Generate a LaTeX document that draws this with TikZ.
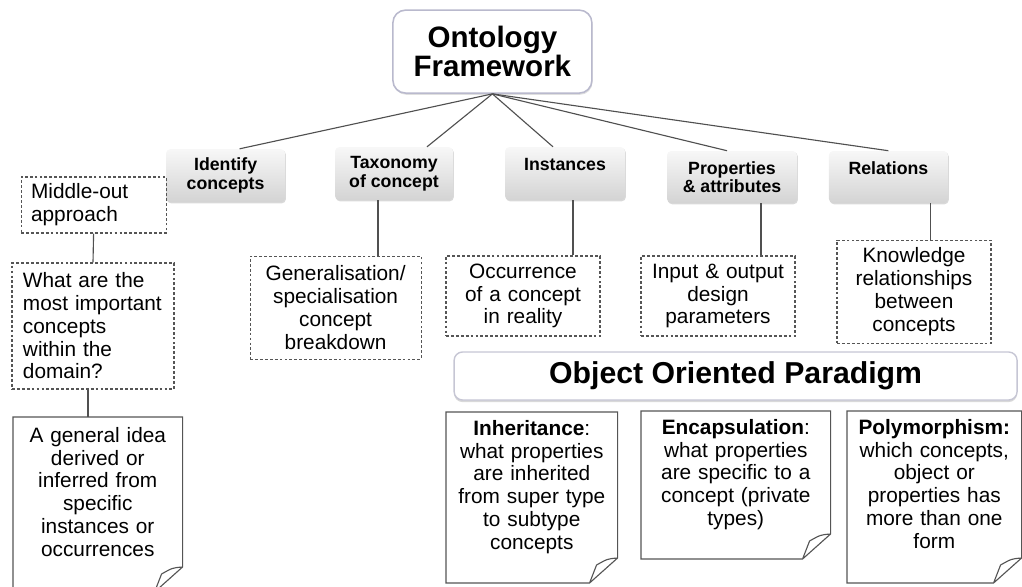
\documentclass[tikz,border=0pt]{standalone}
\usepackage{fontspec}
\setmainfont{Liberation Sans}
\usepackage{tikz}
\usetikzlibrary{positioning,calc,shadows}
\definecolor{ofGray}{RGB}{85,85,85}
\definecolor{ofLine}{RGB}{80,80,80}
\definecolor{ofBorder}{RGB}{185,185,205}
\definecolor{ofPale}{RGB}{198,198,212}

% page with a folded corner, drawn round a note node
\newcommand{\dogear}[2]{%
  \draw[notebox] (#1.north west) -- (#1.north east) -- ++(0,{0.625-#2}) coordinate (#1-fold)
    -- ++(-0.7,-0.625) -| (#1.north west) -- cycle
    (#1-fold) .. controls +(-0.25,-0.02) .. ++(-0.525,-0.175) -- ++(-0.175,-0.45);
}

\begin{document}
\begin{tikzpicture}[
  topic/.style={rounded corners=3pt, top color=black!3, bottom color=black!17,
    drop shadow={opacity=0.3, shadow xshift=0.6pt, shadow yshift=-0.9pt},
    align=center, font=\bfseries\fontsize{12.6}{13.2}\selectfont, minimum height=1.325cm, inner sep=2pt},
  detail/.style={draw=ofGray, dash pattern=on 2pt off 1.5pt, line width=0.8pt,
    font=\fontsize{14.8}{16.2}\selectfont, align=center},
  link/.style={draw=ofLine, line width=0.8pt},
  notebox/.style={draw=ofGray, line width=0.8pt},
  notetext/.style={anchor=north west, align=center, inner xsep=0.1cm, inner ysep=0.2cm,
    font=\fontsize{14.8}{16.2}\selectfont}
]
  \useasboundingbox (0,0) rectangle (25.55,14.65);

  % Root
  \node[draw=ofBorder, line width=1.1pt, fill=white, rounded corners=9pt, minimum width=4.975cm,
    minimum height=2.075cm, align=center, font=\bfseries\fontsize{21}{20.5}\selectfont,
    drop shadow={opacity=0.25, shadow xshift=0.5pt, shadow yshift=-1.2pt}] (onto) at (12.31,13.36) {Ontology\\Framework};

  % Topics
  \node[topic, minimum width=2.975cm] (ident) at (5.64,10.26) {Identify\\concepts};
  \node[topic, minimum width=2.95cm] (taxo) at (9.85,10.31) {Taxonomy\\of concept};
  \node[topic, minimum width=3cm] (inst) at (14.125,10.31) {Instances\\\mbox{}};
  \node[topic, minimum width=3.25cm, minimum height=1.3cm] (props) at (18.3,10.225) {Properties\\\& attributes};
  \node[topic, minimum width=2.975cm, minimum height=1.3cm] (rel) at (22.21,10.225) {Relations\\\mbox{}};

  \draw[link] (onto.south) -- ([xshift=0.35cm]ident.north);
  \draw[link] (onto.south) -- ([xshift=0.825cm]taxo.north);
  \draw[link] (onto.south) -- ([xshift=-0.3cm]inst.north);
  \draw[link] (onto.south) -- ([xshift=-0.125cm]props.north);
  \draw[link] (onto.south) -- (rel.north);

  % Dashed details
  \node[detail, text width=3.125cm, inner xsep=0.25cm, minimum height=1.4cm, align=left] (mid) at (2.34,9.525) {Middle-out\\approach};
  \node[detail, text width=3.5cm, inner xsep=0.275cm, minimum height=3.15cm, align=left] (what) at (2.325,6.5) {What are the\\most important\\concepts\\within the\\domain?};
  \node[detail, text width=4cm, inner xsep=0.1375cm, minimum height=2.575cm] (gen) at (8.39,6.96) {Generalisation/\\specialisation\\concept\\breakdown};
  \node[detail, text width=3.6cm, inner xsep=0.125cm, minimum height=2cm] (occ) at (13.075,7.25) {Occurrence\\of a concept\\in reality};
  \node[detail, text width=3.6cm, inner xsep=0.125cm, minimum height=2cm] (io) at (17.95,7.25) {Input \& output\\design\\parameters};
  \node[detail, text width=3.6cm, inner xsep=0.125cm, minimum height=2.575cm] (know) at (22.85,7.36) {Knowledge\\relationships\\between\\concepts};

  \draw[link] (mid.south) -- (what.north);
  \draw[link] ([xshift=-0.4cm]taxo.south) -- ([xshift=-0.4cm]taxo.south |- gen.north);
  \draw[link] ([xshift=0.2cm]inst.south) -- ([xshift=0.2cm]inst.south |- occ.north);
  \draw[link] ([xshift=0.725cm]props.south) -- ([xshift=0.725cm]props.south |- io.north);
  \draw[link] ([xshift=1.06cm]rel.south) -- ([xshift=1.06cm]rel.south |- know.north);

  % Left note
  \node[notetext, text width=4.025cm, inner ysep=0.25cm] (gidea) at (0.325,4.225) {A general idea\\derived or\\inferred from\\specific\\instances or\\occurrences};
  \dogear{gidea}{4.375}
  \draw[link] ([xshift=-0.125cm]what.south) -- ([xshift=-0.125cm]what.south |- gidea.north);

  % Object oriented paradigm
  \node[draw=ofPale, line width=1pt, fill=white, rounded corners=6pt, minimum width=14.075cm,
    minimum height=1.2cm, font=\bfseries\fontsize{21.5}{24}\selectfont,
    drop shadow={opacity=0.3, shadow xshift=0pt, shadow yshift=-1.5pt}] (oop) at (18.39,5.25) {Object Oriented Paradigm};

  \node[notetext, text width=4.075cm] (inher) at (11.15,4.35) {\textbf{Inheritance}:\\what properties\\are inherited\\from super type\\to subtype\\concepts};
  \dogear{inher}{4.275}
  \node[notetext, text width=4.525cm] (encap) at (16.025,4.375) {\textbf{Encapsulation}:\\what properties\\are specific to a\\concept (private\\types)};
  \dogear{encap}{3.7}
  \node[notetext, text width=4.15cm] (poly) at (21.175,4.375) {\textbf{Polymorphism:}\\which concepts,\\object or\\properties has\\more than one\\form};
  \dogear{poly}{4.3}
\end{tikzpicture}
\end{document}
